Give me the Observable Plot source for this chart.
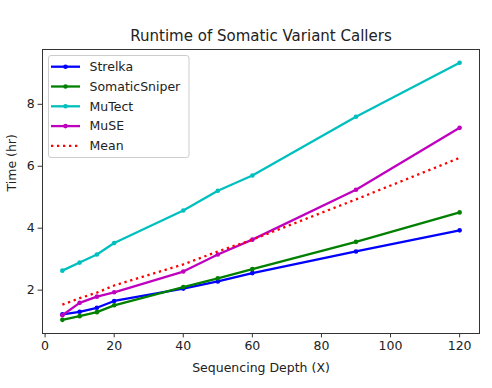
<!DOCTYPE html>
<html><head><meta charset="utf-8">
<script src="https://cdn.jsdelivr.net/npm/d3@7"></script>
<script src="https://cdn.jsdelivr.net/npm/@observablehq/plot@0.6"></script>
<style>body{margin:0;background:#fff} #chart svg{display:block}</style>
</head><body><div id="chart"></div>
<script>
const depth = [5, 10, 15, 20, 40, 50, 60, 90, 120];
const strelka = [1.22, 1.30, 1.43, 1.65, 2.05, 2.28, 2.55, 3.25, 3.93];
const somaticSniper = [1.04, 1.16, 1.29, 1.51, 2.10, 2.38, 2.68, 3.56, 4.51];
const muTect = [2.63, 2.89, 3.15, 3.52, 4.57, 5.21, 5.70, 7.60, 9.34];
const muSE = [1.19, 1.59, 1.79, 1.93, 2.60, 3.15, 3.63, 5.24, 7.24];
const mean = [1.53, 1.74, 1.92, 2.15, 2.83, 3.25, 3.63, 4.93, 6.27];
const seriesNames = ["Strelka", "SomaticSniper", "MuTect", "MuSE", "Mean"];
const seriesColors = ["#0000ff", "#008000", "#00bfbf", "#bf00bf", "#ff0000"];
const xTicks = [0, 20, 40, 60, 80, 100, 120];
const yTicks = [2, 4, 6, 8];
const titleText = "Runtime of Somatic Variant Callers";
const xLabel = "Sequencing Depth (X)";
const yLabel = "Time (hr)";

const seriesValues = [strelka, somaticSniper, muTect, muSE, mean];
const rows = seriesNames.flatMap((s, i) => depth.map((d, j) => ({series: s, depth: d, time: seriesValues[i][j]})));

const font = "DejaVu Sans, sans-serif";
const fs = 12.5;
const dash = "2.3,3.7";
const marks = [];
seriesNames.forEach((s, i) => {
  const data = rows.filter(r => r.series === s);
  const isMean = s === "Mean";
  marks.push(Plot.line(data, {x: "depth", y: "time", stroke: seriesColors[i], strokeWidth: 2.3,
    strokeDasharray: isMean ? dash : null, strokeLinecap: "butt"}));
  if (!isMean) marks.push(Plot.dot(data, {x: "depth", y: "time", fill: seriesColors[i], r: 2.3, stroke: "none"}));
});

const plot = Plot.plot({
  width: 492, height: 388,
  marginLeft: 42, marginRight: 13, marginTop: 49, marginBottom: 55,
  style: {fontFamily: font, fontSize: fs + "px", color: "#222", background: "#fff"},
  x: {domain: [-0.75, 125.75]},
  y: {domain: [0.6, 9.77]},
  marks: [
    Plot.axisX({ticks: xTicks, tickSize: 4.4, tickPadding: 3.5, label: null, fontSize: fs, stroke: "#333"}),
    Plot.axisY({ticks: yTicks, tickSize: 4.4, tickPadding: 3.5, label: null, fontSize: fs, stroke: "#333"}),
    ...marks,
    Plot.frame({stroke: "#333", strokeWidth: 1}),
    Plot.text([titleText], {frameAnchor: "top", dy: -13, fontSize: 15, lineAnchor: "middle", fill: "#222"}),
    Plot.text([xLabel], {frameAnchor: "bottom", dy: 34, fontSize: fs, lineAnchor: "middle", fill: "#222"}),
    Plot.text([yLabel], {frameAnchor: "left", dx: -31, rotate: -90, fontSize: fs, lineAnchor: "middle", fill: "#222"})
  ]
});
document.getElementById("chart").appendChild(plot);

// legend inside the axes (upper left)
const svg = d3.select(plot);
const lg = svg.append("g").attr("font-family", font).attr("font-size", fs).attr("text-anchor", "start");
lg.append("rect").attr("x", 48.5).attr("y", 55.5).attr("width", 140.5).attr("height", 102)
  .attr("rx", 2.5).attr("fill", "#fff").attr("fill-opacity", 0.8).attr("stroke", "#ccc");
seriesNames.forEach((s, i) => {
  const y = 66.7 + i * 19.8;
  lg.append("line").attr("x1", 51).attr("x2", 80).attr("y1", y).attr("y2", y)
    .attr("stroke", seriesColors[i]).attr("stroke-width", 2.3)
    .attr("stroke-dasharray", s === "Mean" ? dash : null);
  if (s !== "Mean") lg.append("circle").attr("cx", 65.5).attr("cy", y).attr("r", 2.3).attr("fill", seriesColors[i]);
  lg.append("text").attr("x", 89.5).attr("y", y).attr("dy", "0.35em").attr("fill", "#222")
    .attr("text-anchor", "start").text(s);
});
</script></body></html>
